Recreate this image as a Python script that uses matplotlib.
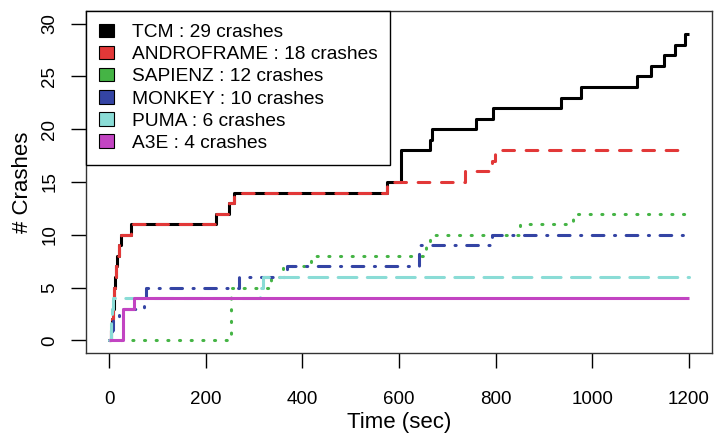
import matplotlib
matplotlib.use("Agg")
import matplotlib.pyplot as plt
from matplotlib.patches import Patch

plt.rcParams['font.family'] = ['Liberation Sans', 'DejaVu Sans']
plt.rcParams['lines.scale_dashes'] = False

# crash counts over time (step functions: time of each new count)
tcm_t = [0, 4, 6, 8, 10, 11, 12, 14, 17, 21, 25, 45, 222, 248, 258, 575, 605, 664, 669, 760, 794, 935, 977, 1093, 1121, 1148, 1172, 1192, 1200]
tcm_y = [0, 1, 2, 3, 4, 5, 6, 7, 8, 9, 10, 11, 12, 13, 14, 15, 18, 19, 20, 21, 22, 23, 24, 25, 26, 27, 28, 29, 29]

andro_t = [0, 4, 6, 8, 10, 11, 12, 14, 17, 21, 25, 45, 222, 248, 258, 575, 736, 792, 798, 1200]
andro_y = [0, 1, 2, 3, 4, 5, 6, 7, 8, 9, 10, 11, 12, 13, 14, 15, 16, 17, 18, 18]

sapienz_t = [0, 252, 335, 360, 418, 655, 665, 850, 960, 1200]
sapienz_y = [0, 5, 6, 7, 8, 9, 10, 11, 12, 12]

monkey_t = [0, 6, 8, 20, 72, 76, 268, 368, 642, 792, 1200]
monkey_y = [0, 1, 2, 3, 4, 5, 6, 7, 9, 10, 10]

puma_t = [0, 3, 4, 5, 7, 312, 318, 1200]
puma_y = [0, 1, 2, 3, 4, 5, 6, 6]

a3e_t = [0, 28, 51, 1200]
a3e_y = [0, 3, 4, 4]

names = ["TCM : 29 crashes", "ANDROFRAME : 18 crashes", "SAPIENZ : 12 crashes",
         "MONKEY : 10 crashes", "PUMA : 6 crashes", "A3E : 4 crashes"]
colors = ["#000000", "#E23838", "#45B445", "#3444A4", "#8ADCD6", "#C244C2"]
styles = ["-", (0, (8.4, 8.4)), (0, (0.8, 7.6)), (0, (0.8, 7.6, 8.4, 7.6)), (0, (13.5, 7.5)), "-"]

fig = plt.figure(figsize=(7.15, 4.33), dpi=100)
ax = fig.add_axes([86 / 715, 80 / 433, 626 / 715, 342 / 433])

series = [(tcm_t, tcm_y), (andro_t, andro_y), (sapienz_t, sapienz_y),
          (monkey_t, monkey_y), (puma_t, puma_y), (a3e_t, a3e_y)]
for (t, y), c, ls in zip(series, colors, styles):
    ax.step(t, y, where='post', color=c, linestyle=ls, linewidth=2.2,
            dash_capstyle='round', solid_capstyle='butt')

ax.set_xlim(-48, 1248)
ax.set_ylim(-1.2, 31.2)
ax.set_xticks(range(0, 1201, 200))
ax.set_yticks(range(0, 31, 5))
ax.tick_params(direction='out', length=11, width=1, labelsize=13.5)
ax.tick_params(axis='x', pad=16)
ax.tick_params(axis='y', pad=9)
for lab in ax.get_yticklabels():
    lab.set_rotation(90)
    lab.set_va('center')
for sp in ax.spines.values():
    sp.set_linewidth(1)
    sp.set_color('#333333')

ax.set_xlabel("Time (sec)", fontsize=16, labelpad=3)
ax.set_ylabel("# Crashes", fontsize=16, labelpad=6)

handles = [Patch(facecolor=c, edgecolor='black', linewidth=0.8) for c in colors]
leg = ax.legend(handles, names, loc='upper left', borderaxespad=0, fontsize=13.8,
                fancybox=False, framealpha=1, edgecolor='black',
                handlelength=0.8, handleheight=0.7, handletextpad=0.9,
                labelspacing=0.24, borderpad=0.68)
leg.get_frame().set_linewidth(1)

fig.savefig("out.png", dpi=100)
